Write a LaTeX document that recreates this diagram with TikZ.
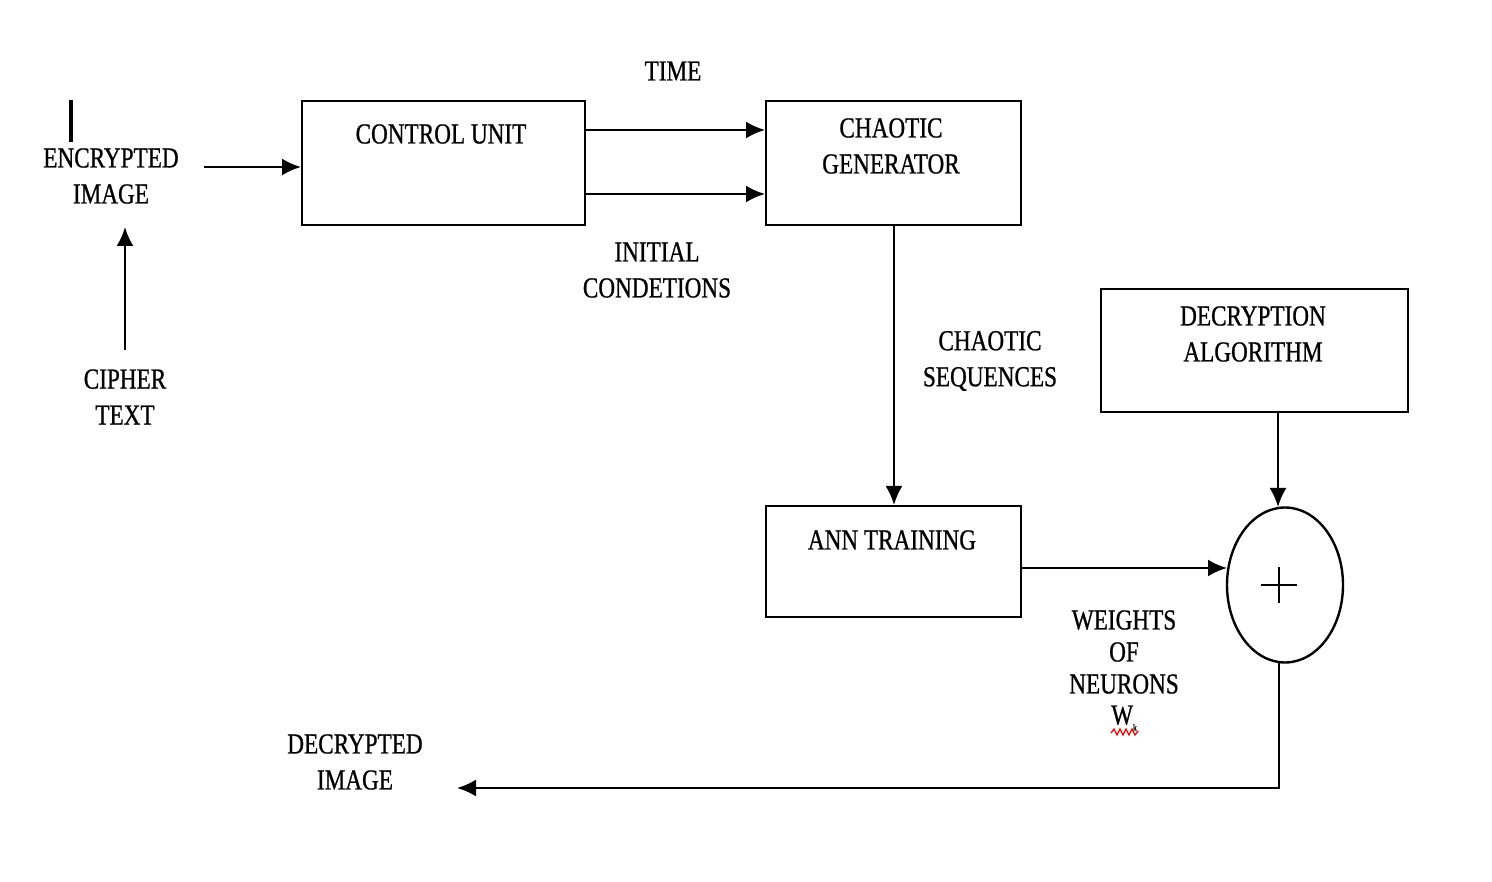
\documentclass[tikz,border=0pt]{standalone}
\usepackage{fontspec}
\setmainfont{Liberation Serif}[FakeStretch=0.8,FakeBold=0.8]
\usetikzlibrary{arrows.meta,shapes.geometric}
\begin{document}
\begin{tikzpicture}[x=1pt,y=-1pt,
  box/.style={draw,line width=2.4pt,inner sep=0pt,anchor=north west},
  lbl/.style={font=\fontsize{29}{36}\selectfont,align=center,inner sep=0pt},
  conn/.style={line width=2.4pt,-{Latex[length=19pt,width=17pt]}}]
\useasboundingbox (0,0) rectangle (1492,882);
% boxes
\node[box,minimum width=283pt,minimum height=124pt] (cu) at (301,100) {};
\node[box,minimum width=255pt,minimum height=124pt] (cg) at (765,100) {};
\node[box,minimum width=307pt,minimum height=123pt] (da) at (1100,288) {};
\node[box,minimum width=255pt,minimum height=111pt] (ann) at (765,505) {};
\node[draw,line width=2.4pt,ellipse,minimum width=116pt,minimum height=155pt,inner sep=0pt] (sum) at (1285,585) {};
% texts in boxes
\node[lbl] (tcu) at (441,134) {CONTROL UNIT};
\node[lbl] (tcg) at (891,146) {CHAOTIC\\GENERATOR};
\node[lbl] (tda) at (1253,334) {DECRYPTION\\ALGORITHM};
\node[lbl] (tann) at (892,540) {ANN TRAINING};
% free labels
\node[lbl] (time) at (673,71) {TIME};
\node[lbl] (ic) at (657,270) {INITIAL\\CONDETIONS};
\node[lbl] (ei) at (111,176) {ENCRYPTED\\IMAGE};
\node[lbl] (ct) at (125,397) {CIPHER\\TEXT};
\node[lbl] (cs) at (990,361) {CHAOTIC\\SEQUENCES};
\node[lbl,font=\fontsize{29}{32}\selectfont] (wn) at (1124,652) {WEIGHTS\\OF\\NEURONS};
\node[lbl] (wk) at (1124,718) {W{\fontsize{9}{9}\selectfont\raisebox{-6pt}{k}}};
\node[lbl] (di) at (355,762) {DECRYPTED\\IMAGE};
% plus sign
\draw[line width=2.4pt] (1261,585) -- (1297,585) (1279,567) -- (1279,603);
% red squiggle
\draw[red,line width=1.3pt] (1111,733) -- (1114,729) -- (1117,735) -- (1120,729) -- (1123,735) -- (1126,729) -- (1129,735) -- (1132,729) -- (1135,735) -- (1138,731);
% cursor bar
\coordinate (bar1) at (71,100);
\coordinate (bar2) at (71,142);
\draw[line width=3.5pt] (bar1) -- (bar2);
% connectors
\coordinate (eiout) at (204,167);
\draw[conn] (eiout) -- (cu.west |- eiout);
\coordinate (ctup) at (125,350);
\coordinate (eibot) at (125,227);
\draw[conn] (ctup) -- (eibot);
\draw[conn] (cu.east |- 0,130) -- (cg.west |- 0,130);
\draw[conn] (cu.east |- 0,194) -- (cg.west |- 0,194);
\draw[conn] (894,224) -- (ann.north -| 894,0);
\draw[conn] (1278,411) -- (1278,507);
\draw[conn] (ann.east |- 0,568) -- (1227,568);
\coordinate (dout) at (457,788);
\draw[conn] (1279,662) -- (1279,788) -- (dout);
\end{tikzpicture}
\end{document}
